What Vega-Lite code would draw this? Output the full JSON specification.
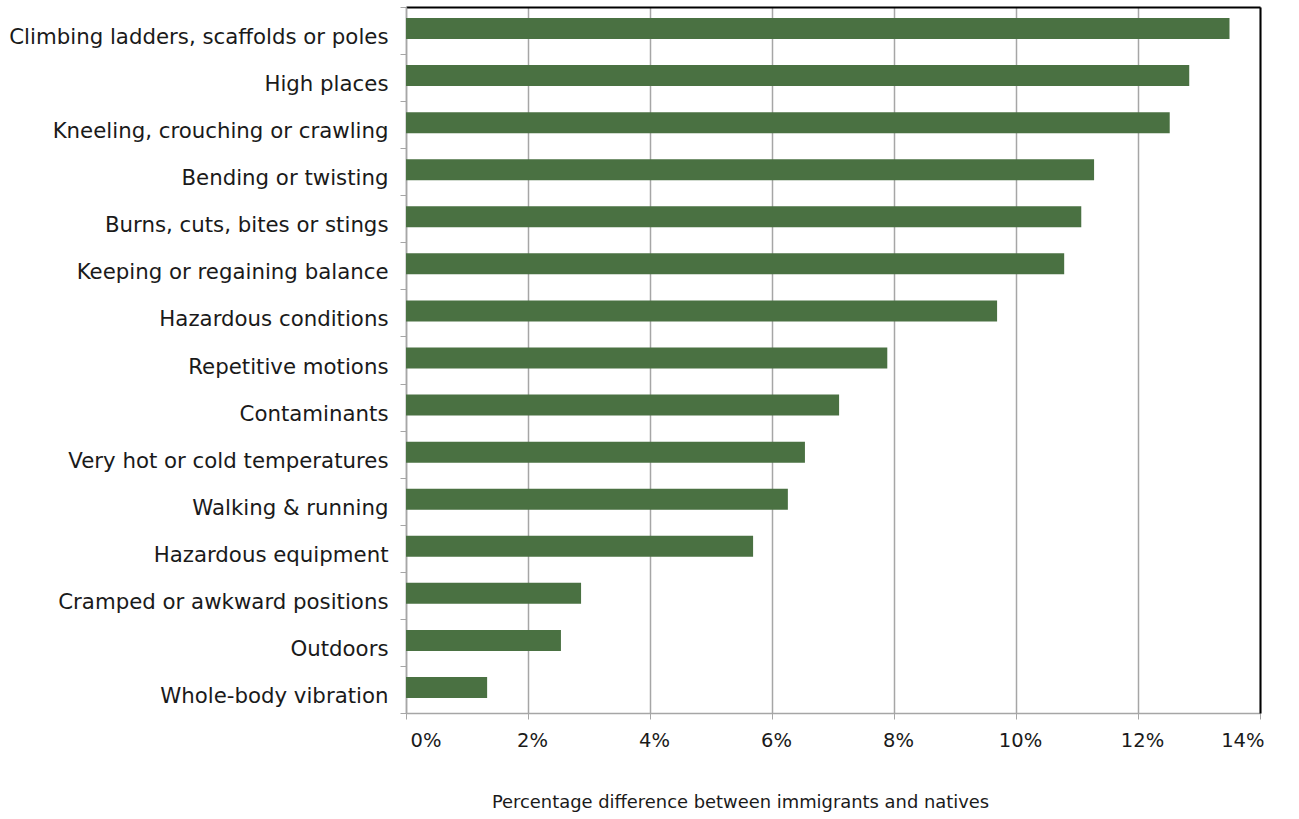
{
  "$schema": "https://vega.github.io/schema/vega-lite/v6.json",
  "width": 854,
  "height": 706,
  "autosize": {"type": "none"},
  "padding": {"left": 406, "top": 7, "right": 39, "bottom": 106},
  "background": "white",
  "config": {
    "view": {"stroke": null},
    "font": "DejaVu Sans",
    "axis": {"labelFont": "DejaVu Sans", "titleFont": "DejaVu Sans", "labelColor": "#1a1a1a", "titleColor": "#1a1a1a"}
  },
  "data": {
    "values": [
      {"hazard": "Climbing ladders, scaffolds or poles", "pct": 13.5},
      {"hazard": "High places", "pct": 12.84},
      {"hazard": "Kneeling, crouching or crawling", "pct": 12.52},
      {"hazard": "Bending or twisting", "pct": 11.28},
      {"hazard": "Burns, cuts, bites or stings", "pct": 11.07},
      {"hazard": "Keeping or regaining balance", "pct": 10.79},
      {"hazard": "Hazardous conditions", "pct": 9.69},
      {"hazard": "Repetitive motions", "pct": 7.89},
      {"hazard": "Contaminants", "pct": 7.1},
      {"hazard": "Very hot or cold temperatures", "pct": 6.54},
      {"hazard": "Walking & running", "pct": 6.26},
      {"hazard": "Hazardous equipment", "pct": 5.69},
      {"hazard": "Cramped or awkward positions", "pct": 2.87},
      {"hazard": "Outdoors", "pct": 2.54},
      {"hazard": "Whole-body vibration", "pct": 1.33}
    ]
  },
  "layer": [
    {
      "mark": {"type": "bar", "color": "#4a7142", "yOffset": -2, "height": {"band": 0.446}},
      "encoding": {
        "x": {
          "field": "pct", "type": "quantitative",
          "scale": {"domain": [0, 14], "nice": false, "zero": true},
          "axis": {
            "orient": "bottom",
            "values": [0, 2, 4, 6, 8, 10, 12, 14],
            "labelExpr": "datum.value + '%'",
            "labelFontSize": 19.5,
            "labelPadding": 12,
            "labelOffset": 4,
            "tickColor": "#a6a6a6",
            "tickSize": 6,
            "domainColor": "#a6a6a6",
            "domainWidth": 1.5,
            "gridColor": "#a6a6a6",
            "gridWidth": 1.5,
            "grid": true,
            "title": "Percentage difference between immigrants and natives",
            "titleFontSize": 17.9,
            "titleFontWeight": "normal",
            "titlePadding": 44,
            "titleX": 334
          }
        },
        "y": {
          "field": "hazard", "type": "nominal", "sort": null,
          "scale": {"paddingInner": 0, "paddingOuter": 0},
          "axis": {
            "orient": "left",
            "title": null,
            "labelFontSize": 21.3,
            "labelPadding": 12,
            "labelLimit": 0,
            "labelOffset": 7,
            "tickBand": "extent",
            "tickColor": "#a6a6a6",
            "tickSize": 6,
            "domainColor": "#a6a6a6",
            "domainWidth": 1.5,
            "grid": false
          }
        }
      }
    },
    {
      "mark": {"type": "bar", "opacity": 0, "height": {"band": 0.446}},
      "encoding": {
        "x": {
          "field": "pct", "type": "quantitative",
          "axis": {"orient": "top", "labels": false, "ticks": false, "grid": false, "title": null, "domainColor": "#000000", "domainWidth": 2}
        },
        "y": {
          "field": "hazard", "type": "nominal", "sort": null,
          "axis": {"orient": "right", "labels": false, "ticks": false, "grid": false, "title": null, "domainColor": "#000000", "domainWidth": 2}
        }
      }
    }
  ],
  "resolve": {"axis": {"x": "independent", "y": "independent"}}
}
